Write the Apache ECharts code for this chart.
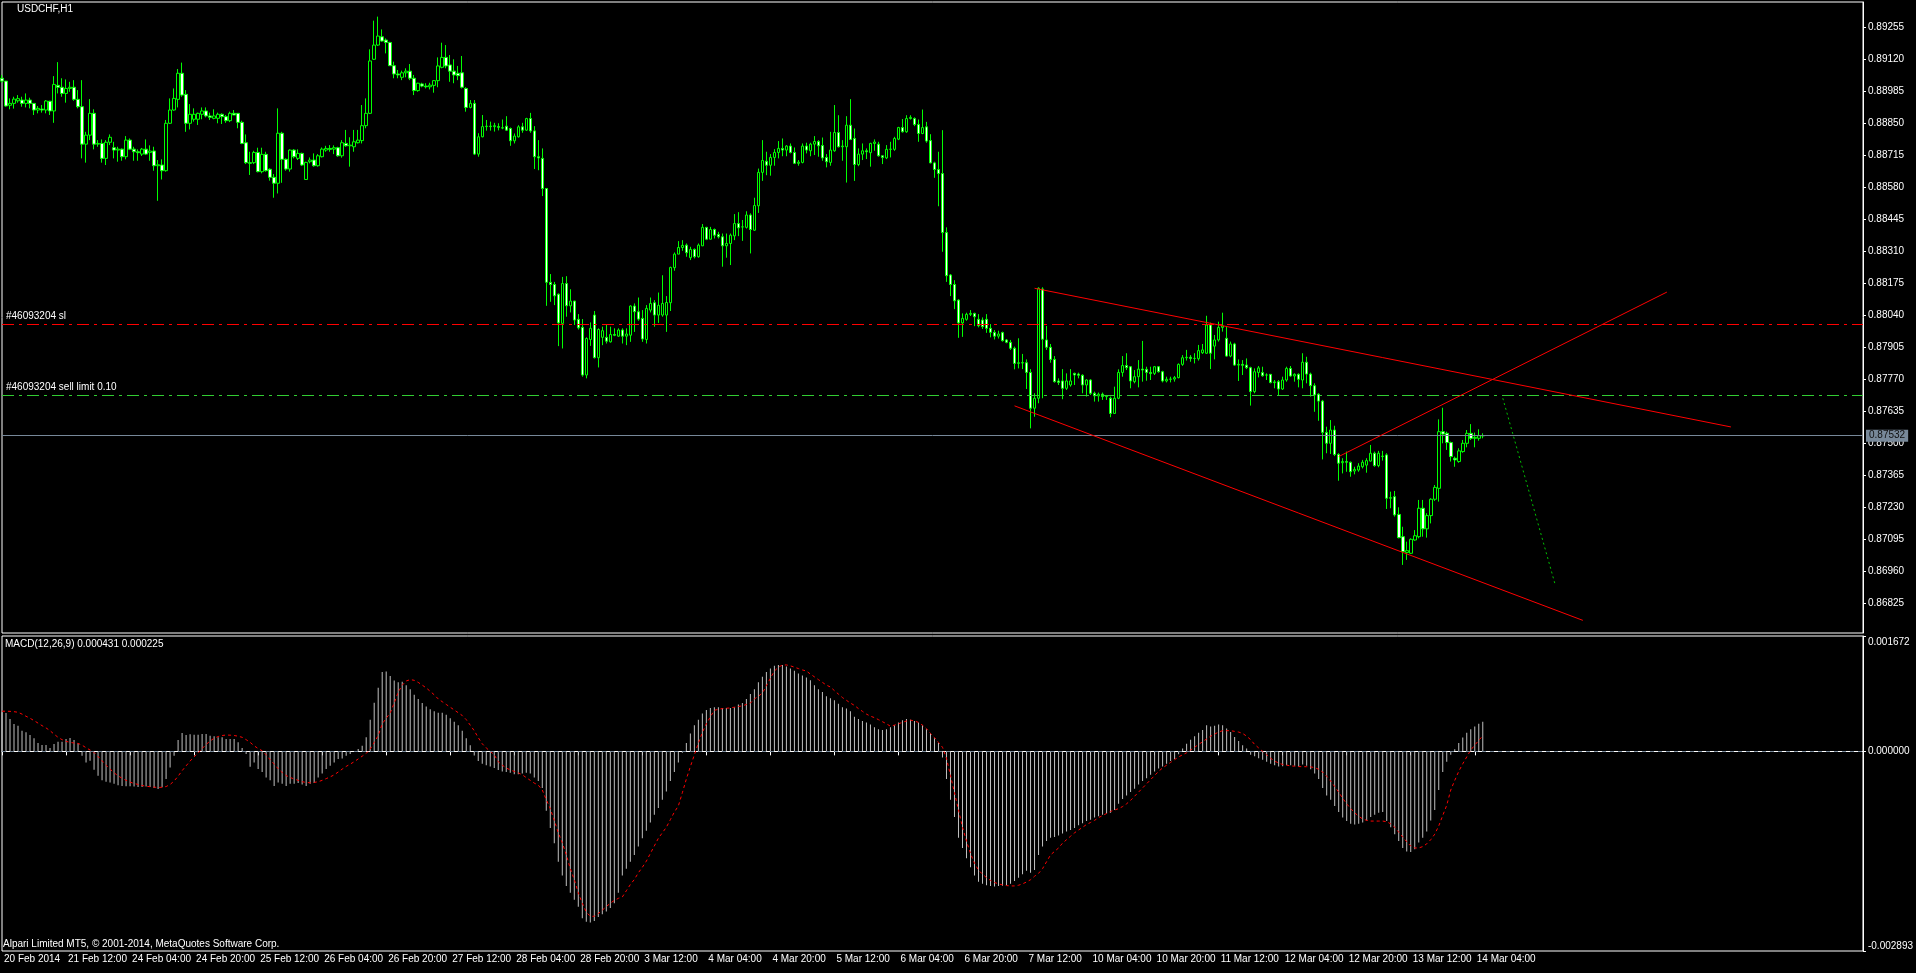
<!DOCTYPE html>
<html><head><meta charset="utf-8">
<script src="https://cdn.jsdelivr.net/npm/echarts@6/dist/echarts.min.js"></script>
<style>html,body{margin:0;padding:0;background:#000;width:1916px;height:973px;overflow:hidden}#c{width:1916px;height:973px}</style>
</head><body><div id="c"></div>
<script>
// ---------------- DATA ----------------
const symbolTitle = 'USDCHF,H1';
const copyrightText = 'Alpari Limited MT5, \u00a9 2001-2014, MetaQuotes Software Corp.';
const tickLabels = ['20 Feb 2014','21 Feb 12:00','24 Feb 04:00','24 Feb 20:00','25 Feb 12:00','26 Feb 04:00','26 Feb 20:00','27 Feb 12:00','28 Feb 04:00','28 Feb 20:00','3 Mar 12:00','4 Mar 04:00','4 Mar 20:00','5 Mar 12:00','6 Mar 04:00','6 Mar 20:00','7 Mar 12:00','10 Mar 04:00','10 Mar 20:00','11 Mar 12:00','12 Mar 04:00','12 Mar 20:00','13 Mar 12:00','14 Mar 04:00'];
const priceTicks = [0.89255,0.89120,0.88985,0.88850,0.88715,0.88580,0.88445,0.88310,0.88175,0.88040,0.87905,0.87770,0.87635,0.87500,0.87365,0.87230,0.87095,0.86960,0.86825];
const priceMin = 0.866997, priceMax = 0.893617;
const macdTicks = [0.001672, 0, -0.002893];
const slPrice = 0.88002, sellLimitPrice = 0.87701;
const slLabel = '#46093204 sl', sellLimitLabel = '#46093204 sell limit 0.10';
// hourly bars, prices x 100000
const opens = [89040,89028,88926,88934,88945,88948,88934,88948,88934,88906,
88910,88906,88943,88902,89010,89002,88976,88997,89002,88951,
88920,88762,88800,88892,88762,88765,88702,88770,88747,88737,
88741,88709,88779,88741,88730,88720,88741,88727,88733,88671,
88674,88650,88850,88906,88951,89061,88972,88850,88867,88867,
88888,88902,88881,88871,88871,88888,88878,88861,88892,88892,
88854,88768,88684,88684,88727,88646,88719,88656,88622,88597,
88808,88698,88657,88737,88702,88723,88613,88688,88695,88671,
88709,88737,88744,88741,88747,88713,88765,88755,88751,88768,
88777,88840,88892,89120,89180,89215,89201,89191,89093,89058,
89044,89063,89070,89040,88988,89016,89007,89004,89010,89030,
89086,89128,89096,89070,89061,89063,88997,88917,88934,88720,
88793,88836,88838,88836,88836,88831,88838,88828,88776,88793,
88835,88821,88870,88818,88709,88702,88575,88179,88170,88129,
88006,88174,88080,88100,88023,87989,87788,87938,88041,87861,
87947,87947,87928,87959,87952,87978,87952,87956,88079,88055,
88027,87938,88062,88093,88041,88041,88041,88093,88241,88298,
88326,88336,88283,88318,88287,88333,88411,88361,88402,88381,
88371,88333,88343,88375,88427,88413,88411,88463,88399,88502,
88643,88690,88673,88706,88727,88744,88737,88754,88727,88681,
88685,88754,88734,88762,88773,88756,88706,88685,88734,88811,
88751,88751,88842,88786,88676,88720,88734,88726,88765,88762,
88713,88704,88740,88740,88783,88832,88814,88870,88870,88845,
88807,88835,88777,88683,88655,88638,88389,88210,88170,88104,
88008,88023,88044,88048,88023,88020,88023,87985,87968,87952,
87967,87936,87926,87901,87837,87840,87840,87799,87648,87690,
88151,87936,87905,87854,87763,87763,87732,87746,87795,87792,
87787,87746,87767,87711,87700,87707,87697,87690,87626,87690,
87799,87828,87823,87760,87781,87813,87812,87799,87795,87823,
87802,87763,87770,87771,87777,87833,87861,87863,87858,87857,
87882,87880,87999,87910,87936,87989,87943,87868,87919,87830,
87833,87830,87819,87718,87799,87799,87788,87791,87756,87760,
87729,87767,87816,87784,87791,87767,87842,87792,87743,87707,
87678,87546,87500,87556,87453,87418,87423,87420,87383,87387,
87401,87408,87425,87458,87406,87444,87451,87268,87275,87200,
87106,87039,87036,87092,87106,87226,87139,87195,87264,87310,
87549,87542,87503,87437,87423,87465,87500,87542,87521,87521,
87532];
const highs = [89054,89028,88955,88962,88969,88962,88976,88958,88934,88923,
88927,88948,88945,89049,89108,89040,89035,89025,89032,88990,
89032,88814,88952,88909,88779,88782,88779,88803,88772,88751,
88744,88796,88786,88751,88740,88746,88782,88757,88751,88695,
88698,88864,88955,88997,89079,89106,88990,88931,88913,88895,
88917,88917,88895,88909,88895,88892,88885,88899,88906,88892,
88861,88803,88730,88734,88747,88747,88730,88660,88636,88913,
88814,88702,88740,88741,88740,88726,88688,88706,88723,88720,
88748,88755,88758,88757,88751,88779,88822,88791,88822,88822,
88927,88955,89162,89283,89300,89246,89208,89194,89110,89075,
89072,89082,89100,89054,89021,89021,89019,89021,89032,89128,
89190,89180,89138,89120,89092,89134,89002,88948,88948,88808,
88885,88864,88857,88852,88850,88866,88880,88832,88807,88842,
88852,88873,88894,88838,88779,88744,88575,88214,88181,88132,
88202,88205,88150,88101,88045,88024,87947,88010,88058,87985,
87992,88003,87992,87985,87985,87985,87985,88082,88090,88115,
88062,88083,88115,88104,88136,88209,88121,88245,88305,88353,
88357,88343,88329,88322,88343,88425,88413,88413,88406,88392,
88385,88385,88385,88467,88475,88442,88479,88470,88536,88659,
88779,88730,88720,88741,88775,88786,88758,88765,88748,88695,
88765,88768,88768,88796,88779,88790,88720,88814,88927,88884,
88779,88880,88952,88828,88744,88765,88744,88768,88782,88772,
88716,88758,88772,88793,88835,88868,88884,88884,88875,88866,
88908,88856,88804,88688,88730,88821,88411,88214,88188,88108,
88048,88051,88062,88051,88045,88031,88045,88003,87978,87975,
87971,87940,87936,87908,87943,87877,87854,87813,87711,88158,
88158,87995,87919,87868,87774,87813,87795,87813,87798,87798,
87791,87770,87770,87718,87714,87714,87704,87697,87739,87812,
87868,87880,87826,87809,87851,87932,87823,87823,87826,87826,
87806,87781,87781,87784,87837,87872,87894,87872,87880,87915,
87919,88038,88009,87957,88013,88051,87995,87929,87924,87854,
87851,87858,87823,87816,87826,87823,87795,87792,87767,87767,
87781,87823,87826,87795,87795,87880,87865,87798,87753,87711,
87683,87570,87598,87574,87458,87437,87465,87423,87401,87416,
87430,87437,87493,87465,87468,87468,87458,87296,87299,87230,
87148,87085,87099,87134,87261,87261,87205,87268,87324,87601,
87650,87549,87507,87444,87479,87514,87556,87581,87545,87559,
87542];
const lows = [89021,88920,88909,88912,88937,88920,88917,88913,88885,88892,
88895,88892,88885,88852,88976,88962,88937,88983,88945,88913,
88702,88684,88779,88740,88751,88684,88674,88758,88702,88688,
88692,88698,88737,88692,88692,88712,88716,88692,88650,88523,
88613,88646,88847,88903,88917,88962,88814,88824,88857,88843,
88867,88875,88864,88867,88850,88847,88852,88855,88885,88829,
88762,88678,88632,88678,88643,88639,88646,88608,88536,88554,
88599,88650,88646,88702,88695,88670,88611,88681,88667,88667,
88706,88730,88730,88720,88709,88705,88751,88667,88730,88765,
88765,88829,88889,89117,89176,89194,89145,89092,89040,89040,
89032,89044,89032,88969,88983,89002,88997,88993,88979,89002,
89082,89082,89025,89019,89032,88997,88899,88913,88716,88709,
88791,88819,88819,88815,88820,88825,88818,88755,88765,88790,
88810,88818,88810,88657,88652,88543,88080,88097,88083,87910,
87900,88034,88052,87999,87980,87781,87774,87911,87858,87820,
87914,87921,87925,87952,87949,87921,87914,87928,87970,88017,
87928,87921,88052,87992,88008,88034,87970,88058,88228,88298,
88312,88287,88273,88280,88283,88332,88357,88360,88364,88364,
88245,88283,88252,88357,88374,88354,88406,88301,88396,88472,
88607,88631,88629,88671,88702,88711,88711,88723,88678,88671,
88681,88723,88711,88716,88709,88692,88664,88671,88730,88748,
88692,88600,88779,88607,88669,88695,88699,88667,88734,88709,
88678,88699,88706,88734,88779,88811,88810,88866,88838,88772,
88804,88768,88681,88620,88500,88308,88181,88121,88066,87945,
87949,88017,88037,87994,87989,87982,87966,87947,87938,87942,
87929,87922,87894,87812,87816,87813,87729,87563,87612,87669,
87690,87894,87840,87756,87746,87686,87725,87739,87746,87774,
87711,87697,87704,87676,87676,87683,87683,87610,87624,87686,
87781,87809,87732,87753,87736,87760,87764,87767,87788,87798,
87757,87757,87757,87760,87774,87827,87849,87844,87837,87849,
87877,87877,87813,87854,87929,87971,87865,87863,87827,87763,
87788,87813,87659,87711,87778,87781,87767,87753,87732,87701,
87725,87760,87781,87760,87736,87732,87753,87697,87633,87595,
87432,87458,87455,87446,87342,87373,87380,87359,87369,87380,
87394,87376,87423,87401,87399,87427,87223,87226,87191,87099,
86987,87008,87033,87089,87099,87106,87102,87162,87257,87254,
87500,87472,87423,87401,87418,87460,87483,87514,87483,87511,
87521];
const closes = [89028,88923,88934,88952,88954,88934,88948,88934,88906,88913,
88906,88944,88902,89014,89002,88976,88997,89002,88951,88920,
88762,88800,88892,88762,88765,88702,88770,88791,88737,88741,
88709,88779,88741,88730,88726,88741,88720,88733,88671,88675,
88650,88850,88906,88955,89061,88969,88850,88888,88888,88892,
88902,88881,88875,88881,88888,88878,88861,88892,88885,88854,
88765,88684,88681,88727,88646,88719,88650,88622,88597,88808,
88698,88657,88737,88709,88723,88674,88685,88695,88671,88713,
88741,88744,88740,88747,88713,88768,88755,88758,88772,88779,
88840,88892,89113,89180,89218,89197,89191,89093,89058,89054,
89063,89070,89040,88988,89019,89007,89004,89011,89030,89092,
89128,89092,89070,89054,89051,89002,88917,88934,88720,88793,
88836,88838,88836,88840,88833,88830,88821,88776,88796,88835,
88821,88870,88818,88709,88704,88575,88179,88170,88122,88008,
88174,88080,88100,88020,87987,87788,87942,87985,87861,87980,
87975,87931,87959,87956,87978,87952,87961,88079,88055,88024,
87940,88069,88090,88041,88082,88090,88094,88242,88298,88326,
88335,88304,88318,88287,88336,88411,88361,88402,88378,88371,
88333,88343,88378,88427,88409,88413,88463,88402,88503,88643,
88693,88673,88706,88727,88744,88737,88754,88727,88681,88686,
88754,88737,88762,88773,88755,88704,88688,88737,88811,88751,
88754,88842,88782,88676,88720,88734,88730,88765,88771,88713,
88706,88740,88741,88786,88832,88814,88870,88875,88845,88807,
88832,88775,88683,88655,88638,88389,88207,88170,88101,88008,
88027,88044,88048,88034,87996,87992,87985,87968,87952,87961,
87933,87926,87901,87837,87840,87839,87799,87648,87690,88154,
87939,87905,87854,87760,87757,87732,87763,87763,87788,87787,
87746,87767,87711,87700,87707,87697,87700,87626,87690,87799,
87828,87819,87763,87781,87813,87809,87799,87794,87823,87802,
87763,87770,87771,87777,87833,87861,87863,87858,87858,87891,
87894,87999,87880,87936,87989,87995,87868,87919,87830,87833,
87829,87819,87718,87802,87818,87785,87788,87756,87759,87729,
87767,87816,87784,87791,87770,87842,87792,87743,87704,87678,
87546,87500,87556,87453,87416,87423,87420,87380,87390,87404,
87420,87427,87458,87406,87458,87446,87268,87271,87198,87102,
87043,87047,87095,87110,87226,87139,87195,87264,87314,87549,
87539,87503,87444,87430,87468,87500,87542,87521,87525,87532,
87532];
// MACD(12,26,9) main line and signal, values x 1e-6
const macdMain = [567,557,470,397,373,300,276,237,189,121,
92,92,48,107,141,141,179,194,165,116,
-63,-160,-136,-267,-354,-420,-440,-450,-470,-490,
-500,-505,-505,-510,-515,-515,-510,-515,-530,-545,
-520,-400,-233,-63,165,267,237,247,240,240,
252,252,228,218,204,204,179,179,179,131,
48,-39,-223,-160,-257,-300,-380,-420,-500,-450,
-470,-500,-470,-470,-460,-480,-500,-470,-460,-378,
-320,-257,-210,-160,-112,-102,-63,-39,-5,34,
82,204,460,703,921,1149,1158,1091,1028,1000,
1010,960,900,820,760,700,650,610,580,560,
560,530,480,430,380,300,190,90,-60,-140,
-180,-200,-220,-240,-270,-290,-300,-310,-330,-330,
-320,-310,-320,-380,-430,-530,-860,-1110,-1330,-1600,
-1800,-1950,-2050,-2150,-2250,-2420,-2470,-2480,-2460,-2400,
-2360,-2320,-2270,-2200,-2050,-1800,-1700,-1600,-1500,-1380,
-1260,-1150,-1030,-920,-820,-700,-580,-430,-300,-160,
-20,120,260,380,460,550,600,630,640,640,
630,630,630,640,680,700,760,830,900,1000,
1080,1150,1200,1240,1250,1250,1230,1200,1170,1130,
1100,1070,1030,960,900,860,800,770,740,690,
640,620,580,500,470,440,420,390,350,320,
310,320,350,380,420,450,470,460,440,420,
380,320,260,190,120,-90,-400,-700,-950,-1250,
-1400,-1550,-1680,-1800,-1890,-1920,-1940,-1950,-1960,-1950,
-1946,-1940,-1920,-1880,-1830,-1780,-1730,-1760,-1720,-1500,
-1380,-1300,-1250,-1240,-1220,-1190,-1160,-1140,-1110,-1070,
-1040,-1010,-990,-960,-940,-920,-900,-890,-850,-760,
-690,-640,-590,-540,-480,-430,-390,-340,-290,-250,
-220,-180,-140,-110,-40,40,110,170,220,270,
310,380,360,370,390,380,330,280,210,150,
90,40,-50,-70,-100,-120,-150,-180,-200,-220,
-215,-200,-200,-210,-220,-190,-210,-260,-320,-400,
-530,-640,-700,-790,-880,-960,-1010,-1050,-1060,-1050,
-1030,-1000,-950,-920,-890,-880,-1010,-1100,-1200,-1300,
-1400,-1450,-1460,-1420,-1320,-1250,-1160,-1000,-850,-560,
-300,-150,-50,30,120,200,270,320,360,400,
431];
const macdSignal = [582,582,580,575,567,540,509,480,446,410,
373,340,300,250,204,170,145,131,121,116,
90,53,20,-15,-75,-136,-200,-257,-310,-354,
-390,-420,-445,-465,-480,-495,-505,-512,-518,-524,
-520,-510,-480,-430,-360,-280,-210,-140,-80,-20,
40,100,150,190,215,230,237,235,230,220,
204,170,130,82,40,10,-50,-120,-184,-250,
-305,-350,-378,-400,-420,-440,-450,-455,-450,-440,
-420,-395,-370,-340,-300,-257,-218,-185,-150,-110,
-70,-30,34,130,228,397,480,557,700,858,
960,1020,1040,1030,1000,960,920,870,820,760,
720,680,640,600,560,520,460,380,300,200,
110,50,0,-50,-150,-200,-240,-270,-290,-311,
-340,-380,-420,-460,-489,-560,-700,-830,-1000,-1180,
-1324,-1500,-1700,-1857,-2050,-2200,-2330,-2390,-2390,-2350,
-2301,-2250,-2200,-2160,-2130,-2110,-2020,-1930,-1857,-1760,
-1680,-1591,-1480,-1370,-1260,-1180,-1100,-990,-880,-791,
-600,-400,-222,-50,120,275,400,500,595,610,
620,625,630,640,650,660,680,700,760,800,
844,950,1060,1164,1220,1250,1253,1240,1220,1200,
1180,1164,1120,1080,1040,1000,960,933,880,830,
780,740,700,666,620,580,540,510,489,460,
430,400,364,380,400,420,440,453,440,420,
380,330,260,200,130,60,-100,-350,-600,-850,
-1100,-1300,-1480,-1620,-1720,-1780,-1830,-1870,-1900,-1920,
-1935,-1945,-1950,-1950,-1940,-1920,-1893,-1860,-1810,-1768,
-1700,-1600,-1500,-1450,-1400,-1330,-1280,-1230,-1180,-1140,
-1100,-1060,-1030,-1000,-960,-930,-900,-870,-850,-830,
-800,-760,-710,-650,-590,-530,-470,-410,-350,-290,
-240,-200,-160,-120,-80,-50,-20,20,60,100,
140,180,220,250,280,300,300,300,290,280,
260,220,170,100,50,0,-50,-100,-140,-170,
-190,-200,-210,-215,-220,-222,-222,-225,-235,-260,
-300,-360,-430,-510,-590,-680,-760,-830,-890,-940,
-980,-1000,-1010,-1010,-1010,-1010,-1020,-1050,-1100,-1170,
-1240,-1310,-1370,-1400,-1400,-1380,-1340,-1280,-1200,-1080,
-930,-780,-560,-420,-290,-180,-80,20,90,160,
225];
// analyst drawings: [barIndex, price] pairs
const channelUpper = [[258, 0.88154], [432, 0.87569]];
const channelLower = [[253, 0.87658], [395, 0.86753]];
const risingLine = [[334, 0.87444], [416, 0.88138]];
const projection = [[375, 0.87690], [388, 0.86909]];

// ---------------- BUILD ----------------
const SLOTS = 466; // visible bar slots incl. empty right margin
const cats = Array.from({length: SLOTS}, (_, i) => String(i));
const candles = opens.map((o, i) => [o / 1e5, closes[i] / 1e5, lows[i] / 1e5, Math.max(highs[i], o, closes[i]) / 1e5]);
const hist = macdMain.map(v => v / 1e6);
const sig = macdSignal.map(v => v / 1e6);
const lastPrice = closes[closes.length - 1] / 1e5;
const macdTitle = 'MACD(12,26,9) ' + hist[hist.length - 1].toFixed(6) + ' ' + sig[sig.length - 1].toFixed(6);

const FONT = "'Liberation Sans', Arial, sans-serif";
const txt = {color: '#ffffff', fontSize: 10, fontFamily: FONT, fontWeight: 'normal'};
const showTick = (i) => i % 16 === 0 && i / 16 < tickLabels.length;

function seg(pts, color, type) {
  const ls = {color: color, width: 1, type: type};
  return [{coord: pts[0], lineStyle: ls}, {coord: pts[1], lineStyle: ls}];
}
function hline(price, color, type, label) {
  const ls = {color: color, width: 1, type: type};
  return [{coord: [0, price], lineStyle: ls, label: label}, {coord: [SLOTS - 1, price], lineStyle: ls, label: label}];
}

const chart = echarts.init(document.getElementById('c'), null, {renderer: 'canvas'});
chart.setOption({
  backgroundColor: '#000000',
  animation: false,
  title: [
    {text: symbolTitle, left: 17, top: 4, padding: 0, textStyle: txt},
    {text: macdTitle, left: 5, top: 639, padding: 0, textStyle: txt},
    {text: copyrightText, left: 3, top: 939, padding: 0, textStyle: txt}
  ],
  grid: [
    {left: 2, right: 53, top: 2, height: 631, show: true, borderColor: '#ffffff', borderWidth: 1, backgroundColor: 'transparent', containLabel: false},
    {left: 2, right: 53, top: 636, height: 315, show: true, borderColor: '#ffffff', borderWidth: 1, backgroundColor: 'transparent', containLabel: false}
  ],
  xAxis: [
    {type: 'category', gridIndex: 0, data: cats, boundaryGap: false, show: false},
    {type: 'category', gridIndex: 1, data: cats, boundaryGap: false,
      axisLine: {show: true, lineStyle: {color: '#ffffff', width: 1}},
      axisTick: {show: true, interval: showTick, length: 4, lineStyle: {color: '#ffffff'}},
      axisLabel: {show: true, interval: showTick, align: 'left', margin: 3, padding: [0, 0, 0, 2],
        formatter: (v, i) => tickLabels[Math.round(Number(v) / 16)] || '', ...txt},
      splitLine: {show: false}}
  ],
  yAxis: [
    {type: 'value', gridIndex: 0, position: 'right', min: priceMin, max: priceMax, scale: true,
      axisLine: {show: true, lineStyle: {color: '#ffffff'}},
      axisTick: {show: true, length: 3, customValues: priceTicks, lineStyle: {color: '#ffffff'}},
      axisLabel: {show: true, customValues: priceTicks, margin: 5, formatter: v => v.toFixed(5), ...txt},
      splitLine: {show: false}},
    {type: 'value', gridIndex: 1, position: 'right', min: macdTicks[2], max: macdTicks[0],
      axisLine: {show: true, lineStyle: {color: '#ffffff'}},
      axisTick: {show: true, length: 3, customValues: macdTicks, lineStyle: {color: '#ffffff'}},
      axisLabel: {show: true, customValues: macdTicks, margin: 5, ...txt,
        formatter: v => v > 0.001 ? '{t|' + v.toFixed(6) + '}' : (v < -0.002 ? '{b|' + v.toFixed(6) + '}' : v.toFixed(6)),
        rich: {t: {padding: [12, 0, 0, 0], ...txt}, b: {padding: [0, 0, 9, 0], ...txt}}},
      splitLine: {show: false}}
  ],
  series: [
    {type: 'candlestick', name: 'USDCHF', xAxisIndex: 0, yAxisIndex: 0, data: candles, barWidth: 3,
      itemStyle: {color: '#000000', color0: '#ffffff', borderColor: '#00ff00', borderColor0: '#00ff00', borderWidth: 1},
      markLine: {silent: true, symbol: ['none', 'none'], animation: false,
        label: {show: false},
        data: [
          hline(slPrice, '#ff0000', [12, 5, 3, 5],
            {show: true, position: 'insideStartTop', distance: [4, 3], formatter: slLabel, ...txt}),
          hline(sellLimitPrice, '#32cd32', [12, 5, 3, 5],
            {show: true, position: 'insideStartTop', distance: [4, 3], formatter: sellLimitLabel, ...txt}),
          hline(lastPrice, '#778899', 'solid',
            {show: true, position: 'end', distance: 3, formatter: lastPrice.toFixed(5), backgroundColor: '#778899', padding: [1, 3, 1, 3], ...txt, color: '#101010'}),
          seg(channelUpper, '#ff0000', 'solid'),
          seg(channelLower, '#ff0000', 'solid'),
          seg(risingLine, '#ff0000', 'solid'),
          seg(projection, '#00c000', [2, 3])
        ]}},
    {type: 'bar', name: 'MACD', xAxisIndex: 1, yAxisIndex: 1, data: hist, barWidth: 1,
      itemStyle: {color: '#c0c0c0'},
      markLine: {silent: true, symbol: ['none', 'none'], label: {show: false},
        data: [[{coord: [0, 0], lineStyle: {color: '#778899', width: 1, type: [4, 4]}}, {coord: [SLOTS - 1, 0], lineStyle: {color: '#778899', width: 1, type: [4, 4]}}]]}},
    {type: 'line', name: 'Signal', xAxisIndex: 1, yAxisIndex: 1, data: sig, showSymbol: false, symbol: 'none',
      lineStyle: {color: '#ff0000', width: 1, type: [3, 3]}, z: 3}
  ]
});
</script></body></html>
